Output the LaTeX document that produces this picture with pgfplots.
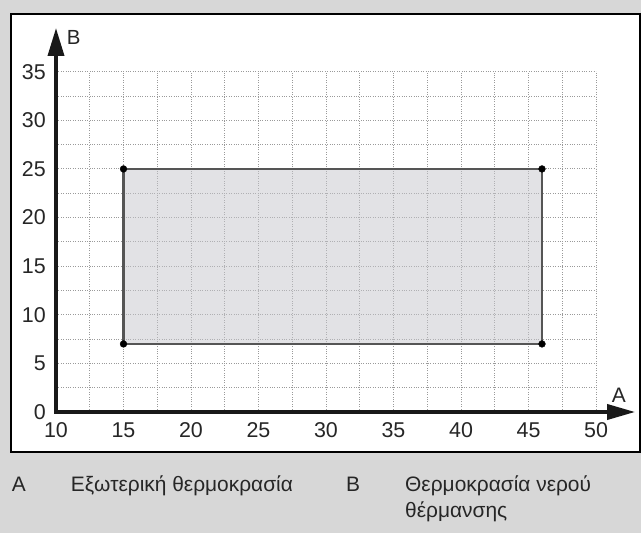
\documentclass[border=0pt]{standalone}
\usepackage{fontspec}
\setmainfont{Liberation Sans}
\usepackage{pgfplots}
\pgfplotsset{compat=1.18}
\usetikzlibrary{arrows.meta}
\definecolor{bggray}{HTML}{D7D7D7}
\definecolor{edgegray}{HTML}{555555}
\definecolor{gridgray}{HTML}{9A9A9A}
\begin{document}
\begin{tikzpicture}
\fill[bggray] (0,0) rectangle (641bp,533bp);
\draw[line width=2bp, fill=white] (10.5bp,518.5bp) rectangle (639.5bp,80.5bp);
\begin{axis}[
  at={(56bp,121bp)}, anchor=south west,
  scale only axis, width=540bp, height=340.3bp,
  xmin=10, xmax=50, ymin=0, ymax=35,
  xtick={10,15,...,50}, ytick={0,5,...,35},
  minor x tick num=1, minor y tick num=1,
  grid=both,
  major grid style={gridgray, line width=0.9bp, dash pattern=on 1bp off 1.4bp},
  minor grid style={gridgray, line width=0.9bp, dash pattern=on 1bp off 1.4bp},
  major tick length=0pt, minor tick length=0pt,
  axis line style={draw=none},
  /pgf/number format/assume math mode=true,
  tick label style={font=\fontsize{21.5}{23}\selectfont, text=black!85},
  xticklabel style={anchor=base, inner sep=0pt, yshift=-26bp},
  yticklabel style={anchor=east, inner sep=0pt, xshift=-10bp},
  clip=false,
]
\addplot[draw=none, fill={rgb,1:red,0.78;green,0.78;blue,0.80}, fill opacity=0.5] coordinates {(15,7) (46,7) (46,25) (15,25)} -- cycle;
\addplot[draw=edgegray, line width=2.6bp] coordinates {(15,7) (46,7) (46,25) (15,25)} -- cycle;
\addplot[only marks, mark=*, mark size=3.4bp, black] coordinates {(15,7) (46,7) (46,25) (15,25)};
\draw[line width=3.6bp, line join=miter, black!90, {Triangle[length=28bp,width=16bp]}-{Triangle[length=28bp,width=15bp]}] (axis cs:10,39.5) -- (axis cs:10,0) -- (axis cs:52.9,0);
\end{axis}
\node[anchor=base west, inner sep=0pt, font=\fontsize{20.5}{22}\selectfont, text=black!85] at (66.7bp,488.5bp) {B};
\node[anchor=base west, inner sep=0pt, font=\fontsize{21}{22}\selectfont, text=black!85] at (611.7bp,130.3bp) {A};
\begin{scope}[every node/.style={anchor=base west, inner sep=0pt, font=\fontsize{21}{22}\selectfont, text=black!85}]
\node at (11.7bp,41bp) {A};
\node at (70.7bp,41bp) {Εξωτερική θερμοκρασία};
\node at (346bp,41bp) {B};
\node at (405bp,41bp) {Θερμοκρασία νερού};
\node at (405bp,16bp) {θέρμανσης};
\end{scope}
\pgfresetboundingbox
\useasboundingbox (0,0) rectangle (641bp,533bp);
\end{tikzpicture}
\end{document}
